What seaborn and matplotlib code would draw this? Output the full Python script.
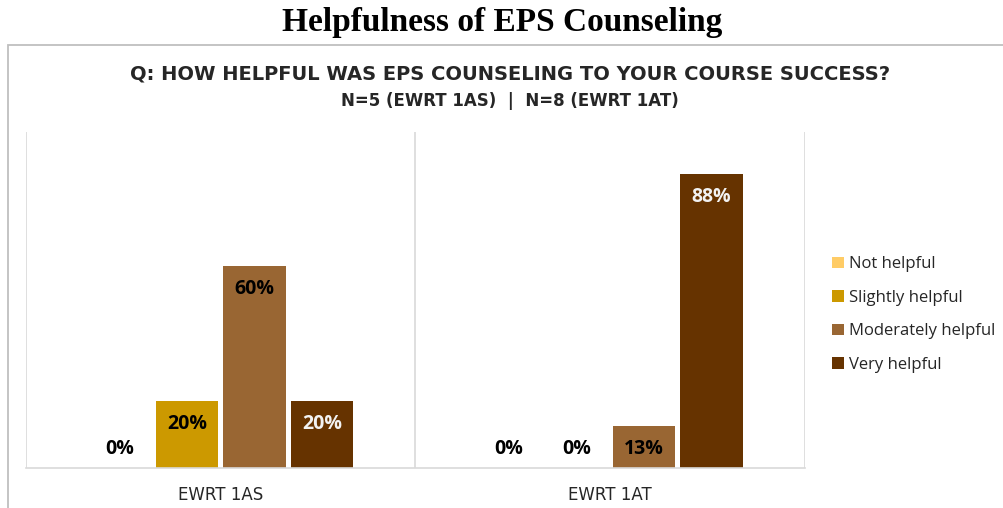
import numpy as np
import pandas as pd
import matplotlib
matplotlib.use('Agg')
import matplotlib.pyplot as plt
import matplotlib.patches as mpatches
import seaborn as sns

# data
courses = ['EWRT 1AS', 'EWRT 1AT']
responses = ['Not helpful', 'Slightly helpful', 'Moderately helpful', 'Very helpful']
pct_1as = [0, 20, 60, 20]
pct_1at = [0, 0, 12.5, 87.5]
labels_1as = ['0%', '20%', '60%', '20%']
labels_1at = ['0%', '0%', '13%', '88%']
colors = ['#FFCC66', '#CC9900', '#996633', '#663300']
label_colors = ['black', 'black', 'black', '#F2F2F2']

d = pd.DataFrame({
    'course': [courses[0]] * 4 + [courses[1]] * 4,
    'response': responses * 2,
    'pct': pct_1as + pct_1at,
})

sns.set_theme(style='white')
plt.rcParams['font.family'] = ['Open Sans', 'DejaVu Sans']

f = plt.figure(figsize=(10.04, 5.08), dpi=100)
W, H = 1004, 508
ax = f.add_axes([26 / W, 1 - 468 / H, (805 - 26) / W, (468 - 132) / H])

sns.barplot(data=d, x='course', y='pct', hue='response', order=courses, hue_order=responses,
            palette=colors, saturation=1, width=0.694, gap=0.078, errorbar=None,
            linewidth=0, ax=ax)

ax.set_ylim(0, 100)
ax.set_xlim(-0.5, 1.5)
ax.set_yticks([])
ax.set_xlabel('')
ax.set_ylabel('')
for s in ['top', 'left', 'right']:
    ax.spines[s].set_visible(False)
ax.spines['bottom'].set_color('#D9D9D9')
ax.spines['bottom'].set_linewidth(1.2)
for xv in [-0.5, 0.5, 1.5]:
    ax.axvline(xv, color='#D9D9D9', lw=1.2, zorder=0)
ax.tick_params(axis='x', length=0, pad=13)
for t in ax.get_xticklabels():
    t.set_fontfamily('DejaVu Sans')
    t.set_fontsize(12)
    t.set_color('#262626')

# value labels
all_labels = [labels_1as, labels_1at]
for i, cont in enumerate(ax.containers):
    for j, bar in enumerate(cont):
        h = bar.get_height()
        xc = bar.get_x() + bar.get_width() / 2
        if h == 0:
            ax.annotate(all_labels[j][i], (xc, 0), xytext=(0, 19), textcoords='offset pixels',
                        ha='center', va='center', fontsize=14, fontweight='bold', color='black')
        else:
            ax.annotate(all_labels[j][i], (xc, h), xytext=(0, -23), textcoords='offset pixels',
                        ha='center', va='center', fontsize=14, fontweight='bold',
                        color=label_colors[i])

handles, labs = ax.get_legend_handles_labels()
ax.get_legend().remove()
f.legend(handles, labs, loc='center left', bbox_to_anchor=(832 / W, 1 - 314.5 / H),
         frameon=False, fontsize=12, handlelength=0.7, handleheight=0.7,
         handletextpad=0.3, labelspacing=1.05, borderpad=0, borderaxespad=0,
         labelcolor='#262626')

# outer chart border
f.patches.append(mpatches.Rectangle((8 / W, -0.1), 1.2, 1 - 45 / H + 0.1, transform=f.transFigure,
                                    fill=False, edgecolor='#BFBFBF', lw=1.3))

f.text(0.5, 1 - 22 / H, 'Helpfulness of EPS Counseling', ha='center', va='center',
       family='Liberation Serif', fontweight='bold', fontsize=24, color='black')
f.text(510 / W, 1 - 74 / H, 'Q: HOW HELPFUL WAS EPS COUNSELING TO YOUR COURSE SUCCESS?',
       ha='center', va='center', family='DejaVu Sans', fontweight='bold', fontsize=14,
       color='#262626')
f.text(510 / W, 1 - 101 / H, 'N=5 (EWRT 1AS)  |  N=8 (EWRT 1AT)',
       ha='center', va='center', family='DejaVu Sans', fontweight='bold', fontsize=12,
       color='#262626')

f.savefig('out.png', dpi=100)
